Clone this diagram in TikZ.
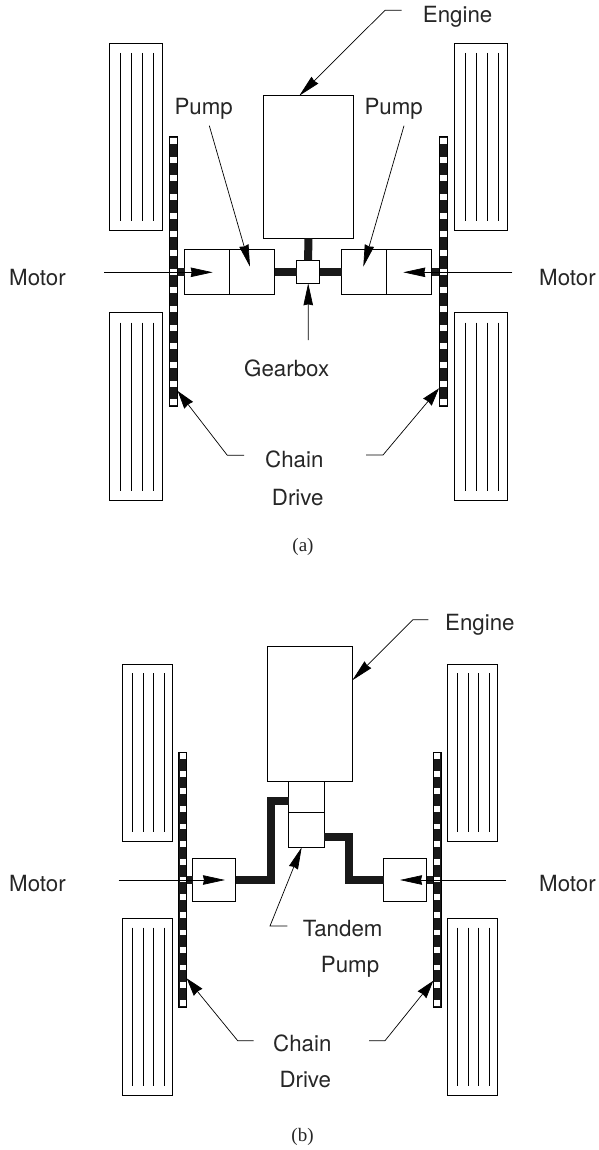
\documentclass[tikz,border=0pt]{standalone}
\usepackage{fontspec}
\setmainfont{TeX Gyre Heros}
\newfontfamily\capfont{Liberation Serif}
\usetikzlibrary{arrows.meta,calc}
\tikzset{
	partbox/.style={draw, fill=white, line width=0.9pt, inner sep=0pt, outer sep=0pt},
	chainbar/.style={draw, fill=black!90, line width=0.8pt, inner sep=0pt, outer sep=0pt, minimum width=8pt},
	shaft/.style={black!90, line width=8pt},
	leader/.style={line width=0.7pt, -{Stealth[length=22pt,width=9.5pt,inset=1pt]}},
	shortleader/.style={line width=0.7pt, -{Stealth[length=18pt,width=11pt,inset=1pt]}},
	label/.style={anchor=base west, inner sep=0pt, text=black!85, font=\fontsize{22.3}{24}\selectfont},
	caption/.style={anchor=base, inner sep=0pt, text=black!85, font=\capfont\fontsize{19}{21}\selectfont}
}
\begin{document}
\begin{tikzpicture}[x=1pt,y=-1pt]
	\useasboundingbox (0,0) rectangle (598,1150);
	% tyres
	\foreach \x/\t/\b in {109.5/43/230.7, 454/43/230.7, 109.5/312.7/500, 454/312.7/500} {
		\draw[line width=0.9pt] (\x,\t) rectangle ++(53,{\b-\t});
		\foreach \d in {11,22,33,44} {\draw[line width=0.8pt] ({\x+\d},{\t+10}) -- ({\x+\d},{\b-9.5});}
	}
	\foreach \x/\t/\b in {122.3/664.3/841, 447.3/664.3/841, 122.3/918.7/1095.3, 447.3/918.7/1095.3} {
		\draw[line width=0.9pt] (\x,\t) rectangle ++(50,{\b-\t});
		\foreach \d in {10,20.7,31.3,42} {\draw[line width=0.8pt] ({\x+\d},{\t+9}) -- ({\x+\d},{\b-9});}
	}
	% chains
	\node[chainbar, minimum height=270pt] (chainAL) at (173.5,271.7) {};
	\node[chainbar, minimum height=270pt] (chainAR) at (443.2,271.7) {};
	\node[chainbar, minimum height=255pt] (chainBL) at (182.7,879.8) {};
	\node[chainbar, minimum height=255pt] (chainBR) at (437,879.8) {};
	\foreach \x in {173.5,443.2} {
		\foreach \k in {0,...,14} {\fill[white] ({\x-3.3},{138+18.67*\k}) rectangle ++(6.6,6);}
	}
	\foreach \x in {182.7,437} {
		\foreach \k in {0,...,14} {\fill[white] ({\x-3.1},{753.2+17.63*\k}) rectangle ++(6.2,5.7);}
	}
	% first layout
	\node[partbox, minimum width=90pt, minimum height=142.6pt] (engineA) at (308.3,167) {};
	\node[partbox, minimum width=45pt, minimum height=45pt] (motorAL) at (207.2,271.8) {};
	\node[partbox, minimum width=45pt, minimum height=45pt] (pumpAL) at (252.2,271.8) {};
	\node[partbox, minimum width=45pt, minimum height=45pt] (pumpAR) at (364.4,271.8) {};
	\node[partbox, minimum width=45pt, minimum height=45pt] (motorAR) at (409.4,271.8) {};
	\node[partbox, minimum width=23pt, minimum height=23pt] (gearA) at (308.2,271.8) {};
	\draw[shaft] (engineA.south) -- (gearA.north);
	\draw[shaft] (pumpAL.east) -- (gearA.west);
	\draw[shaft] (gearA.east) -- (pumpAR.west);
	\draw[shaft] (chainAL.east |- motorAL.west) -- (motorAL.west);
	\draw[shaft] (motorAR.east) -- (chainAR.west |- motorAR.east);
	% second layout
	\node[partbox, minimum width=85pt, minimum height=134.3pt] (engineB) at (309.8,713.8) {};
	\node[partbox, minimum width=35.3pt, minimum height=31.3pt] (tandemBa) at (306.3,796.6) {};
	\node[partbox, minimum width=35.3pt, minimum height=35pt] (tandemBb) at (306.3,829.8) {};
	\node[partbox, minimum width=43pt, minimum height=43pt] (motorBL) at (214.3,879.8) {};
	\node[partbox, minimum width=43pt, minimum height=43pt] (motorBR) at (405.2,879.8) {};
	\coordinate (bendBL) at (270.7,801);
	\coordinate (bendBR) at (348.5,836.7);
	\draw[shaft] (motorBL.east) -| (bendBL) -- (bendBL -| tandemBa.west);
	\draw[shaft] (motorBR.west) -| (bendBR) -- (bendBR -| tandemBb.east);
	\draw[shaft] (chainBL.east |- motorBL.west) -- (motorBL.west);
	\draw[shaft] (motorBR.east) -- (chainBR.west |- motorBR.east);
	% texts
	\node[label] (engineTextA) at (422.7,22.7) {Engine};
	\node[label] (pumpTextAL) at (174.3,115) {Pump};
	\node[label] (pumpTextAR) at (364.3,115) {Pump};
	\node[label] (motorTextAL) at (9,285) {Motor};
	\node[label] (motorTextAR) at (539,285) {Motor};
	\node[label] (gearText) at (244,376) {Gearbox};
	\node[label] (chainTextA) at (265,467.3) {Chain};
	\node[label] (driveTextA) at (271.7,505) {Drive};
	\node[caption] (capA) at (303,551.5) {(a)};
	\node[label] (engineTextB) at (445,630.7) {Engine};
	\node[label] (motorTextBL) at (9,891) {Motor};
	\node[label] (motorTextBR) at (539,891) {Motor};
	\node[label] (tandemText) at (302.7,936.7) {Tandem};
	\node[label] (pumpTextB) at (320.7,972) {Pump};
	\node[label] (chainTextB) at (273,1051.7) {Chain};
	\node[label] (driveTextB) at (279.3,1087.7) {Drive};
	\node[caption] (capB) at (302.5,1141) {(b)};
	% leaders
	\coordinate (e1) at (401.7,10.3);
	\coordinate (e2) at (385,10.3);
	\coordinate (e3) at (299.3,95.7);
	\draw[leader] (e1) -- (e2) -- (e3);
	\coordinate (pl1) at (209.3,125.7);
	\coordinate (pl2) at (250,266.7);
	\coordinate (pr1) at (404,125.7);
	\coordinate (pr2) at (363.3,266.7);
	\draw[leader] (pl1) -- (pl2);
	\draw[leader] (pr1) -- (pr2);
	\coordinate (ml1) at (104.3,272.3);
	\coordinate (ml2) at (212.7,272.3);
	\coordinate (mr1) at (512.3,272.3);
	\coordinate (mr2) at (403.3,272.3);
	\draw[leader] (ml1) -- (ml2);
	\draw[leader] (mr1) -- (mr2);
	\coordinate (g1) at (308.3,340);
	\draw[leader] (g1) -- (gearA.south);
	\coordinate (cl1) at (244,455.3);
	\coordinate (cl2) at (227.3,455.3);
	\coordinate (cl3) at (177.7,391);
	\coordinate (cr1) at (366,455);
	\coordinate (cr2) at (383,455);
	\coordinate (cr3) at (439,388.3);
	\draw[shortleader] (cl1) -- (cl2) -- (cl3);
	\draw[shortleader] (cr1) -- (cr2) -- (cr3);
	\coordinate (ee1) at (428.3,619.7);
	\coordinate (ee2) at (413,619.7);
	\coordinate (ee3) at (352.3,680.3);
	\draw[leader] (ee1) -- (ee2) -- (ee3);
	\coordinate (t1) at (287.3,926);
	\coordinate (t2) at (270,926);
	\coordinate (t3) at (301.7,847.3);
	\draw[leader] (t1) -- (t2) -- (t3);
	\coordinate (mbl1) at (118.7,880);
	\coordinate (mbl2) at (225,880);
	\coordinate (mbr1) at (506,880);
	\coordinate (mbr2) at (400,880);
	\draw[leader] (mbl1) -- (mbl2);
	\draw[leader] (mbr1) -- (mbr2);
	\coordinate (cbl1) at (253.7,1040.7);
	\coordinate (cbl2) at (237.7,1040.7);
	\coordinate (cbl3) at (186.7,978.3);
	\coordinate (cbr1) at (369,1040.7);
	\coordinate (cbr2) at (385,1040.7);
	\coordinate (cbr3) at (433.3,980.7);
	\draw[shortleader] (cbl1) -- (cbl2) -- (cbl3);
	\draw[shortleader] (cbr1) -- (cbr2) -- (cbr3);
\end{tikzpicture}
\end{document}
